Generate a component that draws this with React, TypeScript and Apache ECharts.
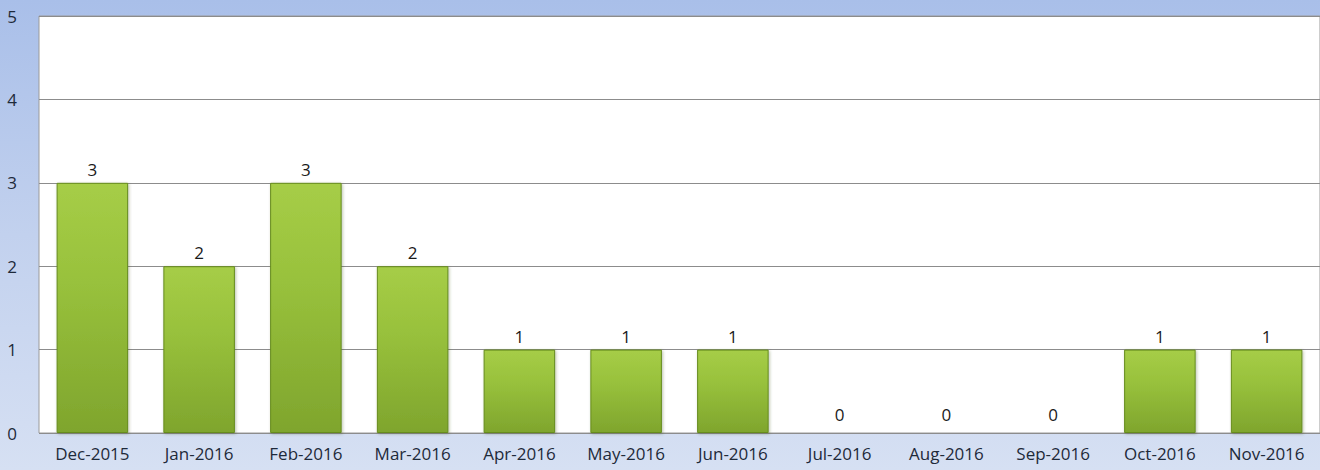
import React, { useEffect, useRef } from "react";
import * as echarts from "echarts";

const categories = ["Dec-2015", "Jan-2016", "Feb-2016", "Mar-2016", "Apr-2016", "May-2016", "Jun-2016", "Jul-2016", "Aug-2016", "Sep-2016", "Oct-2016", "Nov-2016"];
const values = [3, 2, 3, 2, 1, 1, 1, 0, 0, 0, 1, 1];
const yTicks = { min: 0, max: 5, interval: 1 };

export default function App() {
  const ref = useRef<HTMLDivElement>(null);
  useEffect(() => {
    document.body.style.margin = "0";
    const chart = echarts.init(ref.current!, null, { renderer: "svg" });
    const font = "Open Sans, Calibri, Noto Sans, sans-serif";
    const barFill = new echarts.graphic.LinearGradient(0, 0, 0, 1, [
      { offset: 0, color: "#a6cd47" },
      { offset: 0.4, color: "#98c13c" },
      { offset: 1, color: "#7fa52d" },
    ]);
    chart.setOption({
      animation: false,
      backgroundColor: new echarts.graphic.LinearGradient(0, 0, 0, 1, [
        { offset: 0, color: "#a9bfe9" },
        { offset: 0.5, color: "#c2d1ee" },
        { offset: 1, color: "#d6e0f3" },
      ]),
      grid: {
        left: 39,
        right: 0,
        top: 16,
        bottom: 37,
        show: true,
        backgroundColor: "#ffffff",
        borderColor: "#9a9a9a",
        borderWidth: 1,
      },
      xAxis: {
        type: "category",
        data: categories,
        axisLine: { show: false },
        axisTick: { show: false },
        axisLabel: { color: "#1e2a3a", fontSize: 17, fontFamily: font, margin: 12, interval: 0 },
      },
      yAxis: {
        type: "value",
        min: yTicks.min,
        max: yTicks.max,
        interval: yTicks.interval,
        axisLine: { show: false },
        axisTick: { show: false },
        splitLine: { lineStyle: { color: "#8c8c8c", width: 1 } },
        axisLabel: { color: "#1e2a3a", fontSize: 17, fontFamily: font, margin: 22 },
      },
      series: [
        {
          type: "bar",
          data: values.map((v) =>
            v === 0
              ? { value: v, itemStyle: { borderWidth: 0, color: "transparent" }, label: { distance: 10 } }
              : v
          ),
          barCategoryGap: "33%",
          itemStyle: {
            color: barFill,
            borderColor: "#668c1e",
            borderWidth: 1,
            shadowColor: "rgba(60,80,20,0.35)",
            shadowBlur: 3,
            shadowOffsetX: 1,
            shadowOffsetY: 1,
          },
          label: {
            show: true,
            position: "top",
            distance: 5,
            color: "#1a1a1a",
            fontSize: 17,
            fontFamily: font,
          },
        },
      ],
    });
    return () => chart.dispose();
  }, []);
  return <div ref={ref} style={{ position: "fixed", left: 0, top: 0, width: 1320, height: 470 }} />;
}
